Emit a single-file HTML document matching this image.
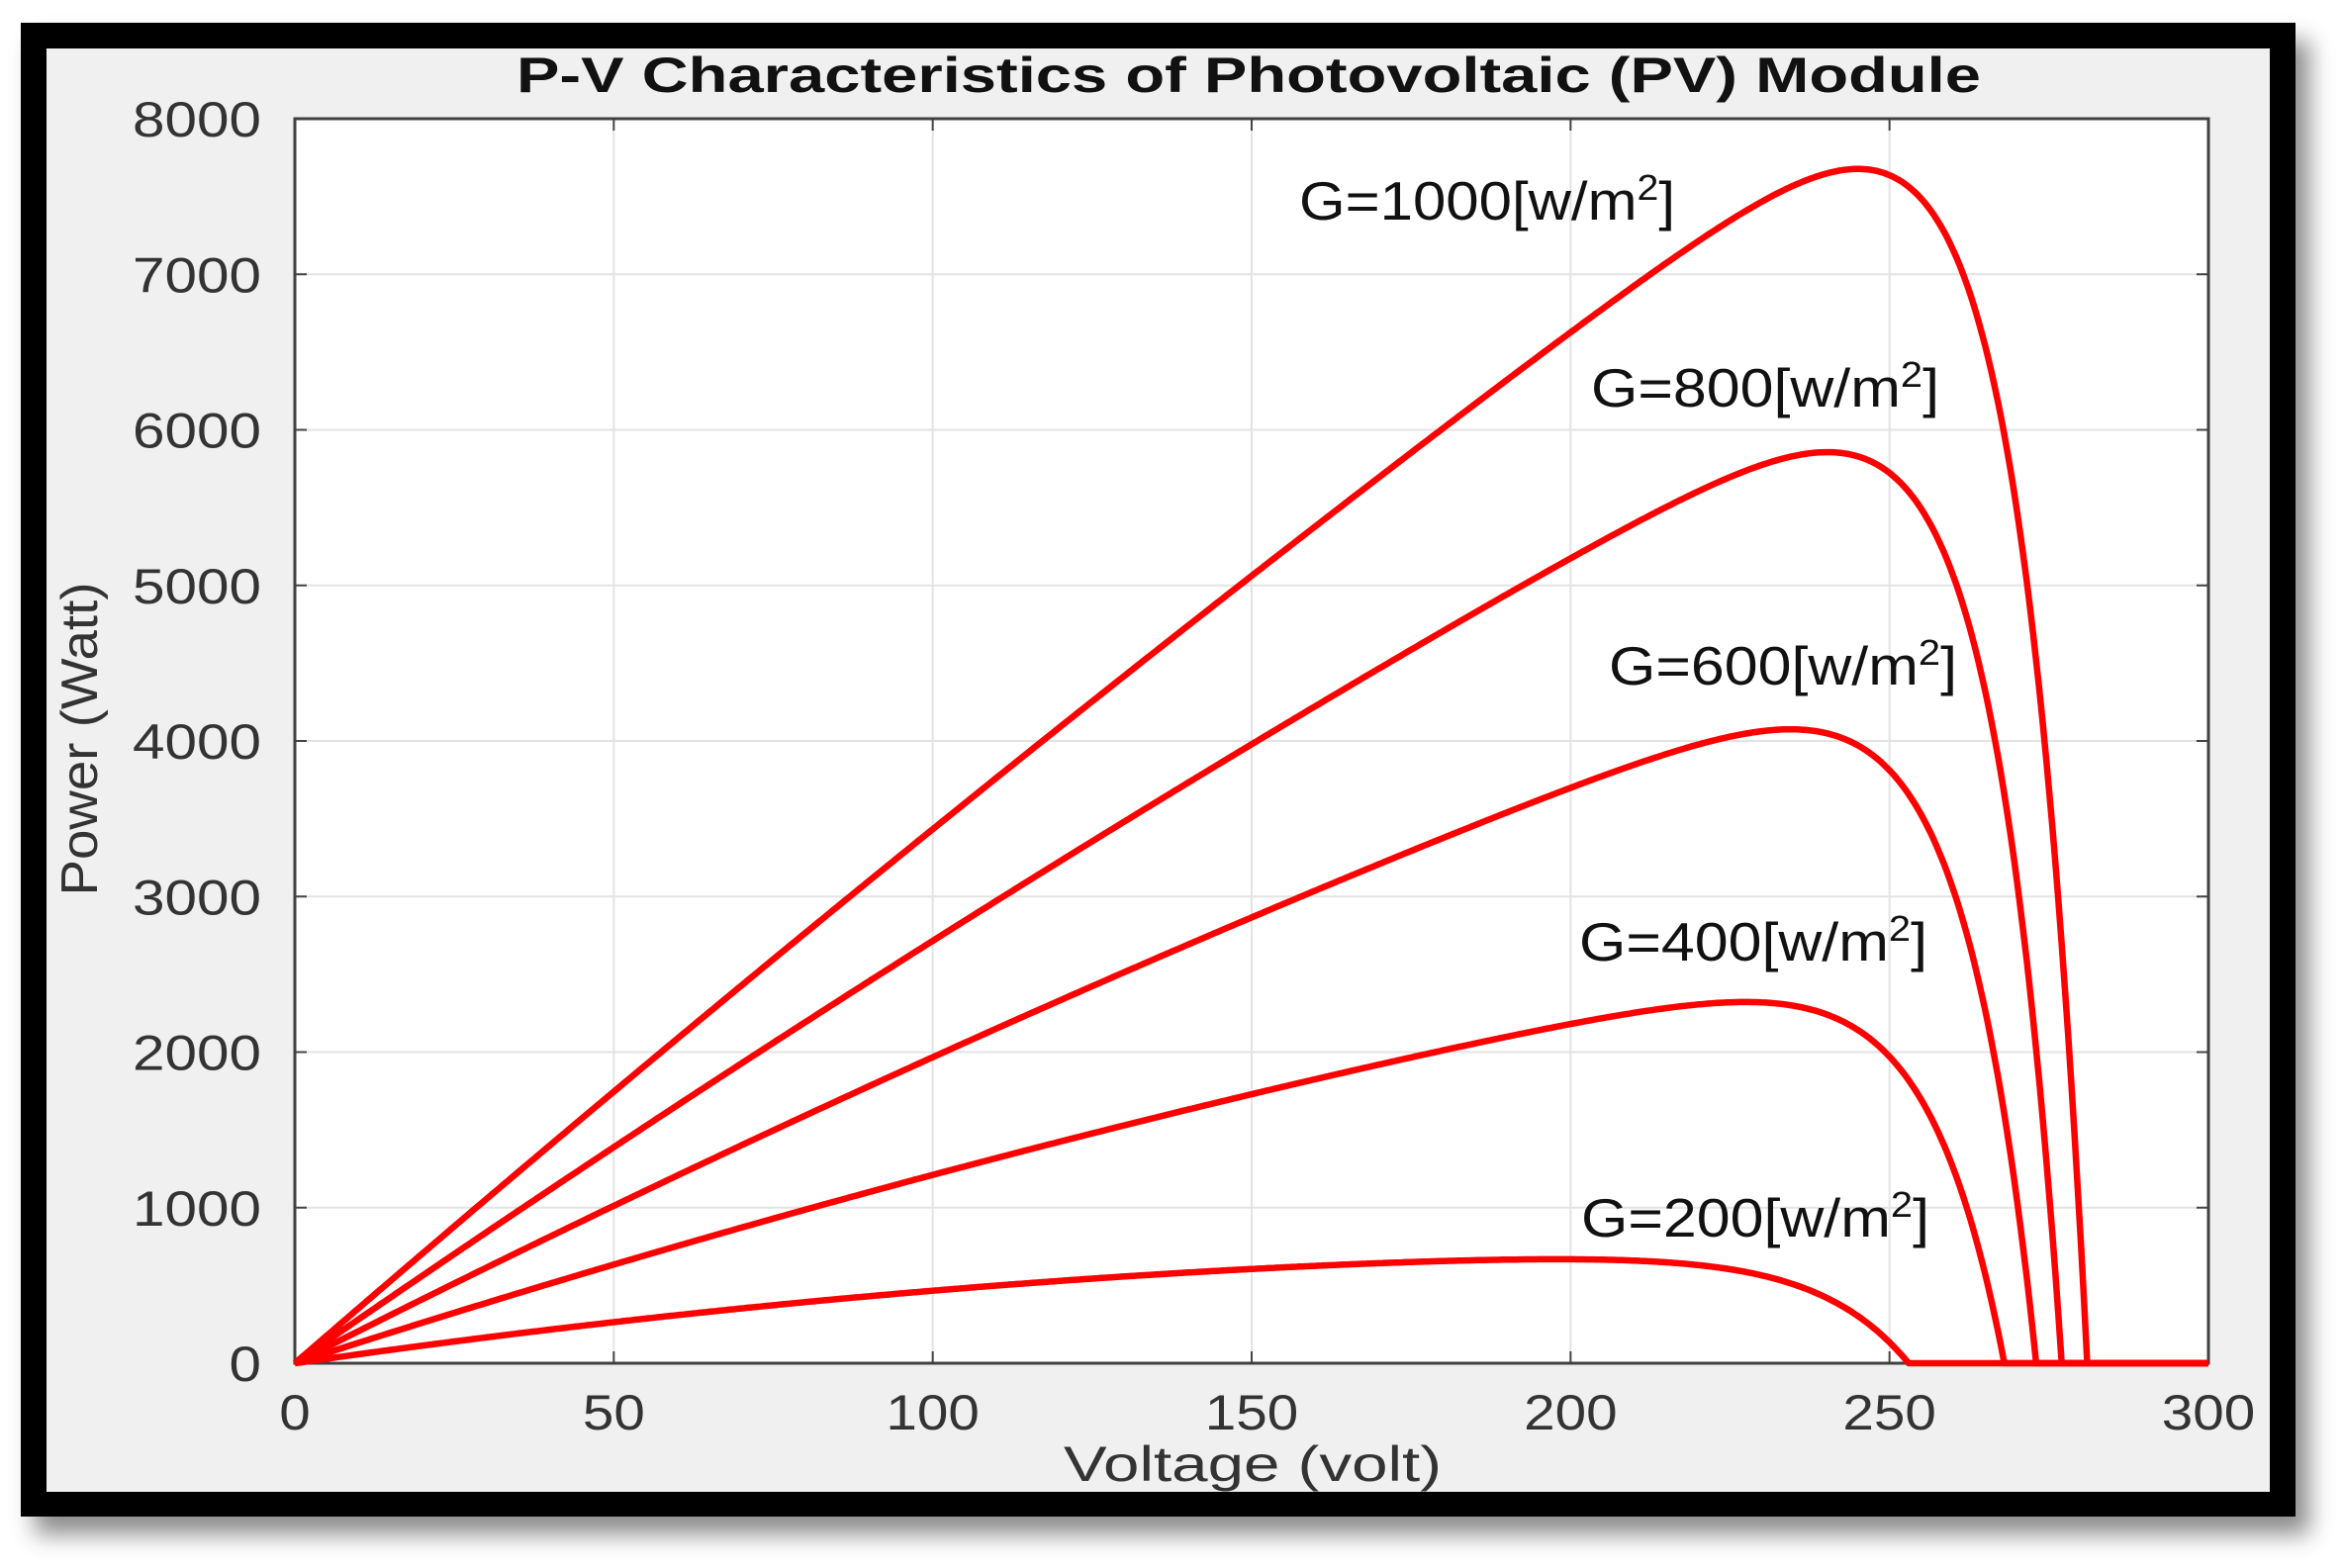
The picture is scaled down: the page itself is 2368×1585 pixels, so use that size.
<!DOCTYPE html>
<html><head><meta charset="utf-8"><style>
html,body{margin:0;padding:0;background:#fff;}
body{width:2368px;height:1585px;position:relative;overflow:hidden;}
#frame{position:absolute;left:21px;top:23px;width:2299px;height:1510px;background:#000;box-shadow:14px 18px 22px rgba(0,0,0,0.45);}
svg{position:absolute;left:0;top:0;}
text{font-family:"Liberation Sans",Arial,sans-serif;}
</style></head><body>
<div id="frame"></div>
<svg width="2368" height="1585" xmlns="http://www.w3.org/2000/svg">
<rect x="47" y="49" width="2247" height="1459" fill="#f0f0f0"/>
<rect x="298" y="120" width="1934" height="1258" fill="#fff"/>
<g id="grid" stroke="#e3e3e3" stroke-width="2"></g>
<g id="ticks" stroke="#444" stroke-width="2"></g>
<rect x="298" y="120" width="1934" height="1258" fill="none" stroke="#404040" stroke-width="3"/>
<g id="curves" fill="none" stroke="#ff0000" stroke-width="6.5" stroke-linejoin="round"></g>
<g id="labels" fill="#333" font-size="50"></g>
<text x="1262" y="93" font-size="50" font-weight="bold" fill="#111" text-anchor="middle" textLength="1480" lengthAdjust="spacingAndGlyphs">P-V Characteristics of Photovoltaic (PV) Module</text>
<text x="1266" y="1497" font-size="50" fill="#333" text-anchor="middle" textLength="382" lengthAdjust="spacingAndGlyphs">Voltage (volt)</text>
<text transform="translate(98,747) rotate(-90)" font-size="52" fill="#333" text-anchor="middle" textLength="317" lengthAdjust="spacingAndGlyphs">Power (Watt)</text>
<g font-size="55" fill="#111">
<text x="1313" y="222" textLength="380" lengthAdjust="spacingAndGlyphs">G=1000[w/m<tspan dy="-20" font-size="36">2</tspan><tspan dy="20">]</tspan></text>
<text x="1608" y="411" textLength="352" lengthAdjust="spacingAndGlyphs">G=800[w/m<tspan dy="-20" font-size="36">2</tspan><tspan dy="20">]</tspan></text>
<text x="1626" y="692" textLength="352" lengthAdjust="spacingAndGlyphs">G=600[w/m<tspan dy="-20" font-size="36">2</tspan><tspan dy="20">]</tspan></text>
<text x="1596" y="971" textLength="352" lengthAdjust="spacingAndGlyphs">G=400[w/m<tspan dy="-20" font-size="36">2</tspan><tspan dy="20">]</tspan></text>
<text x="1598" y="1250" textLength="352" lengthAdjust="spacingAndGlyphs">G=200[w/m<tspan dy="-20" font-size="36">2</tspan><tspan dy="20">]</tspan></text>
</g>
</svg>
<script>
var NS="http://www.w3.org/2000/svg";
function X(v){return 298+v*1934/300;}
function Y(p){return 1378-p*1258/8000;}
function el(t,a,p){var e=document.createElementNS(NS,t);for(var k in a)e.setAttribute(k,a[k]);document.getElementById(p).appendChild(e);return e;}
for(var v=50;v<300;v+=50){var x=X(v);el('line',{x1:x,y1:120,x2:x,y2:1378},'grid');el('line',{x1:x,y1:1378,x2:x,y2:1366},'ticks');el('line',{x1:x,y1:120,x2:x,y2:132},'ticks');}
for(var p=1000;p<8000;p+=1000){var y=Y(p);el('line',{x1:298,y1:y,x2:2232,y2:y},'grid');el('line',{x1:298,y1:y,x2:310,y2:y},'ticks');el('line',{x1:2220,y1:y,x2:2232,y2:y},'ticks');}
for(var v=0;v<=300;v+=50){var s=String(v);var t=el('text',{x:X(v),y:1445,'text-anchor':'middle',textLength:s.length*31.5,lengthAdjust:'spacingAndGlyphs'},'labels');t.textContent=s;}
for(var p=0;p<=8000;p+=1000){var s=String(p);var t=el('text',{x:264,y:Y(p)+18,'text-anchor':'end',textLength:s.length*32.5,lengthAdjust:'spacingAndGlyphs'},'labels');t.textContent=s;}
var C=[[35.5,0.00033,281,11.2],[28.4,0.00044,277,11.5],[20.8,0.000543,273,12.3],[13.26,0.00087,268,12.8],[5.9,0.0021,253,15]];
C.forEach(function(c){var Isc=c[0],k=c[1],Voc=c[2],a=c[3];var IL=Isc*(1-k*Voc);var d="";
for(var v=0;v<=Voc;v+=0.5){var I=Isc*(1-k*v)-IL*Math.exp((v-Voc)/a);if(I<0)I=0;var P=v*I;d+=(d?"L":"M")+X(v).toFixed(1)+" "+Y(P).toFixed(1);}
d+="L"+X(Voc).toFixed(1)+" "+Y(0)+"L"+X(300)+" "+Y(0);el('path',{d:d},'curves');});
</script>
</body></html>
